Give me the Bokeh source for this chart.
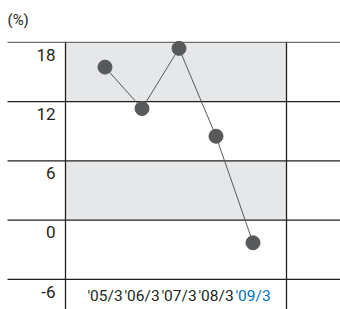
from bokeh.plotting import figure
from bokeh.models import Range1d, ColumnDataSource
from bokeh.core.properties import value
from bokeh.embed import file_html
from bokeh.resources import INLINE

categories = ["'05/3", "'06/3", "'07/3", "'08/3", "'09/3"]
values = [15.5, 11.3, 17.4, 8.5, -2.3]
y_ticks = [18, 12, 6, 0, -6]
y_tick_labels = ["18", "12", "6", "0", "-6"]
bands = [(12, 18), (0, 6)]

FONT = "Roboto"
W, H = 340, 309
PX = 9.87
Y0 = 219.6
y_top = Y0 / PX
y_bot = (Y0 - H) / PX
XPX = 37.0
X0 = 104.5
def xp(px):
    return (px - X0) / XPX
x_left, x_right = xp(0), xp(W)
x_frame_l, x_frame_r = xp(65), xp(286)

p = figure(width=W, height=H, output_backend="svg", toolbar_location=None,
           x_range=Range1d(x_left, x_right), y_range=Range1d(y_bot, y_top),
           min_border=0, min_border_left=0, min_border_right=0,
           min_border_top=0, min_border_bottom=0)
p.axis.visible = False
p.grid.visible = False
p.outline_line_color = None
p.background_fill_color = "white"

for lo, hi in bands:
    p.quad(left=x_frame_l, right=x_frame_r, bottom=lo, top=hi,
           fill_color="#e6e7e8", line_color=None)

line_cols = ["#6d6e71" if t == max(y_ticks) else "#231f20" for t in y_ticks]
p.segment(x0=[xp(7)] * len(y_ticks), x1=[x_right] * len(y_ticks), y0=y_ticks, y1=y_ticks,
          line_color=line_cols, line_width=1.3)

p.segment(x0=[x_frame_l, x_frame_r], x1=[x_frame_l, x_frame_r], y0=[max(y_ticks)] * 2, y1=[y_bot] * 2,
          line_color="#231f20", line_width=1.3)

p.text(x=[xp(55)] * len(y_ticks), y=[t - 1.25 for t in y_ticks], text=y_tick_labels,
       text_align="right", text_baseline="middle", text_font=value(FONT),
       text_font_size="17px", text_color="#231f20")

xs = list(range(len(categories)))
src = ColumnDataSource(dict(x=xs, y=values))
p.line("x", "y", source=src, line_color="#58595b", line_width=1)
p.scatter("x", "y", source=src, size=14, fill_color="#58595b", line_color="#58595b")

label_colors = ["#231f20"] * (len(categories) - 1) + ["#0072bc"]
p.text(x=xs, y=[(Y0 - 295) / PX] * len(xs), text=categories, text_align="center", text_baseline="middle",
       text_font=value(FONT), text_font_size="15.5px", text_color=label_colors)

p.text(x=[xp(7)], y=[(Y0 - 19.5) / PX], text=["(%)"], text_align="left", text_baseline="middle",
       text_font=value(FONT), text_font_size="15px", text_color="#231f20")

open("out.html", "w").write(file_html(p, INLINE))
